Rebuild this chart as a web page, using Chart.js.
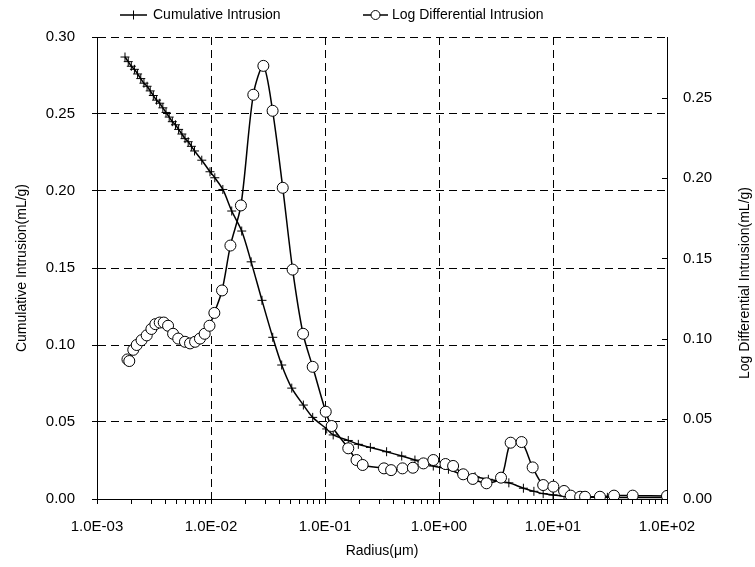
<!DOCTYPE html>
<html>
<head>
<meta charset="utf-8">
<script src="https://cdn.jsdelivr.net/npm/chart.js@4.4.1/dist/chart.umd.min.js"></script>
<style>
  html, body { margin: 0; padding: 0; background: #fff; }
  canvas { display: block; }
</style>
</head>
<body>
<canvas id="chart" width="755" height="567"></canvas>
<script>
const cumRadius = [0.00176, 0.00188, 0.00200, 0.00213, 0.00227, 0.00242, 0.00258, 0.00275, 0.00293, 0.00312,
  0.00333, 0.00355, 0.00378, 0.00403, 0.00430, 0.00458, 0.00488, 0.00520, 0.00555, 0.00592,
  0.00631, 0.00673, 0.00717, 0.0083, 0.0098, 0.0108, 0.0127, 0.0152, 0.0186, 0.0225,
  0.028, 0.0348, 0.0417, 0.0511, 0.0646, 0.078, 0.1035, 0.118, 0.160, 0.196,
  0.25, 0.347, 0.471, 0.615, 0.891, 1.21, 1.58, 2.07, 2.71, 4.1,
  5.5, 6.8, 8.2, 10, 12.5, 15, 20, 30, 50, 100];
const cumVolume = [0.287, 0.284, 0.281, 0.279, 0.276, 0.273, 0.270, 0.268, 0.265, 0.262,
  0.259, 0.257, 0.254, 0.251, 0.248, 0.245, 0.243, 0.240, 0.237, 0.234,
  0.232, 0.229, 0.226, 0.220, 0.2125, 0.2086, 0.201, 0.187, 0.174, 0.154,
  0.129, 0.105, 0.087, 0.072, 0.061, 0.053, 0.0455, 0.0416, 0.038, 0.0355,
  0.0335, 0.0307, 0.0279, 0.0253, 0.0214, 0.0193, 0.016, 0.0145, 0.0128, 0.0105,
  0.0070, 0.005, 0.0035, 0.0026, 0.002, 0.0015, 0.0012, 0.0011, 0.001, 0.001];

const logRadius = [0.00185, 0.00192, 0.00208, 0.00223, 0.00246, 0.00273, 0.00300, 0.00325, 0.00355, 0.00385,
  0.00420, 0.00465, 0.00516, 0.00591, 0.00655, 0.00725, 0.0080, 0.0088, 0.0097, 0.0107,
  0.0125, 0.0148, 0.0183, 0.0235, 0.0288, 0.0347, 0.0426, 0.052, 0.0642, 0.078,
  0.1015, 0.1144, 0.160, 0.189, 0.214, 0.329, 0.38, 0.478, 0.59, 0.73,
  0.891, 1.14, 1.33, 1.63, 1.98, 2.61, 3.5, 4.25, 5.3, 6.63,
  8.2, 10.07, 12.5, 14.3, 17.3, 19.1, 25.8, 34.3, 50, 100];
const logVolume = [0.087, 0.086, 0.093, 0.096, 0.099, 0.102, 0.106, 0.109, 0.110, 0.110,
  0.108, 0.103, 0.100, 0.098, 0.097, 0.098, 0.100, 0.103, 0.108, 0.116,
  0.130, 0.158, 0.183, 0.252, 0.270, 0.242, 0.194, 0.143, 0.103, 0.0824,
  0.0544, 0.0455, 0.0316, 0.0243, 0.0212, 0.0191, 0.018, 0.0191, 0.0195, 0.0222,
  0.0243, 0.0218, 0.0206, 0.0154, 0.0125, 0.0098, 0.0133, 0.0351, 0.0355, 0.0197,
  0.0087, 0.0077, 0.005, 0.0021, 0.0014, 0.0014, 0.0014, 0.0021, 0.0021, 0.0019];

const xDecades = [0.001, 0.01, 0.1, 1, 10, 100];
const xTickLabels = ['1.0E-03', '1.0E-02', '1.0E-01', '1.0E+00', '1.0E+01', '1.0E+02'];
const leftTicks = [0, 0.05, 0.10, 0.15, 0.20, 0.25, 0.30];
const rightTicks = [0, 0.05, 0.10, 0.15, 0.20, 0.25];

const FONT = "'Liberation Sans', Arial, sans-serif";

function isDecade(v) {
  const e = Math.log10(v);
  return Math.abs(e - Math.round(e)) < 1e-9;
}

// 1..9 per decade, like Excel's minor marks
function decadeTicks() {
  const out = [];
  for (let i = 0; i < xDecades.length; i++) {
    const d = xDecades[i];
    if (i === xDecades.length - 1) { out.push({ value: d }); break; }
    for (let m = 1; m <= 9; m++) out.push({ value: d * m });
  }
  return out;
}

const decor = {
  id: 'decor',
  afterDraw(chart) {
    const ctx = chart.ctx;
    const area = chart.chartArea;
    const y1 = chart.scales.y1;
    ctx.save();
    // inward tick marks on the right axis
    ctx.strokeStyle = '#000';
    ctx.lineWidth = 1;
    rightTicks.forEach(v => {
      const y = Math.round(y1.getPixelForValue(v)) + 0.5;
      ctx.beginPath();
      ctx.moveTo(area.right - 5, y);
      ctx.lineTo(area.right, y);
      ctx.stroke();
    });

    // legend
    ctx.lineWidth = 1.5;
    ctx.beginPath();
    ctx.moveTo(120, 15); ctx.lineTo(147, 15);
    ctx.moveTo(363, 15); ctx.lineTo(388, 15);
    ctx.stroke();
    ctx.lineWidth = 1;
    ctx.beginPath();
    ctx.moveTo(133.5, 10.5); ctx.lineTo(133.5, 19.5);
    ctx.stroke();
    ctx.beginPath();
    ctx.arc(375.5, 15, 4.5, 0, Math.PI * 2);
    ctx.fillStyle = '#fff';
    ctx.fill();
    ctx.stroke();

    ctx.fillStyle = '#000';
    ctx.font = '14px ' + FONT;
    ctx.textBaseline = 'middle';
    ctx.textAlign = 'left';
    ctx.fillText('Cumulative Intrusion', 153, 15);
    ctx.fillText('Log Differential Intrusion', 392, 15);

    // axis titles
    ctx.textAlign = 'center';
    ctx.fillText('Radius(μm)', (area.left + area.right) / 2, 551);
    ctx.save();
    ctx.translate(22, 268);
    ctx.rotate(-Math.PI / 2);
    ctx.fillText('Cumulative Intrusion(mL/g)', 0, 0);
    ctx.restore();
    ctx.save();
    ctx.translate(745, 283);
    ctx.rotate(-Math.PI / 2);
    ctx.fillText('Log Differential Intrusion(mL/g)', 0, 0);
    ctx.restore();
    ctx.restore();
  }
};

new Chart(document.getElementById('chart').getContext('2d'), {
  type: 'line',
  data: {
    datasets: [{
      label: 'Cumulative Intrusion',
      data: cumRadius.map((r, i) => ({ x: r, y: cumVolume[i] })),
      yAxisID: 'y',
      borderColor: '#000',
      borderWidth: 1.5,
      pointStyle: 'cross',
      pointRadius: 4.5,
      pointBorderWidth: 1,
      pointBorderColor: '#000',
      tension: 0.3,
      fill: false,
      order: 1
    }, {
      label: 'Log Differential Intrusion',
      data: logRadius.map((r, i) => ({ x: r, y: logVolume[i] })),
      yAxisID: 'y1',
      borderColor: '#000',
      borderWidth: 1.5,
      pointStyle: 'circle',
      pointRadius: 5.5,
      pointBorderWidth: 1,
      pointBorderColor: '#000',
      pointBackgroundColor: '#fff',
      tension: 0.3,
      fill: false,
      order: 0
    }]
  },
  options: {
    responsive: false,
    animation: false,
    devicePixelRatio: 1,
    layout: { padding: { top: 37, left: 0, right: 0, bottom: 0 } },
    plugins: {
      legend: { display: false },
      tooltip: { enabled: false }
    },
    scales: {
      x: {
        type: 'logarithmic',
        position: 'bottom',
        min: 0.001,
        max: 100,
        afterBuildTicks: scale => { scale.ticks = decadeTicks(); },
        afterFit: scale => { scale.height = 68; },
        grid: {
          color: c => (c.tick && isDecade(c.tick.value)) ? '#000' : 'rgba(0,0,0,0)',
          tickColor: '#000',
          tickLength: 5,
          tickWidth: 1,
          lineWidth: 1
        },
        border: { display: true, color: '#000', width: 1, dash: [8, 5] },
        ticks: {
          autoSkip: false,
          maxRotation: 0,
          minRotation: 0,
          padding: 14,
          color: '#000',
          font: { family: FONT, size: 15 },
          callback: v => {
            const i = xDecades.findIndex(d => Math.abs(d - v) / d < 1e-9);
            return i >= 0 ? xTickLabels[i] : '';
          }
        }
      },
      y: {
        type: 'linear',
        position: 'left',
        min: 0,
        max: 0.30,
        afterBuildTicks: scale => { scale.ticks = leftTicks.map(v => ({ value: v })); },
        afterFit: scale => { scale.width = 97; },
        grid: {
          color: '#000',
          tickColor: '#000',
          tickLength: 5,
          tickWidth: 1,
          lineWidth: 1
        },
        border: { display: true, color: '#000', width: 1, dash: [8, 5] },
        ticks: {
          padding: 17,
          color: '#000',
          font: { family: FONT, size: 15 },
          callback: v => v.toFixed(2)
        }
      },
      y1: {
        type: 'linear',
        position: 'right',
        min: 0,
        max: 0.288,
        afterBuildTicks: scale => { scale.ticks = rightTicks.map(v => ({ value: v })); },
        afterFit: scale => { scale.width = 88; },
        grid: { display: true, drawOnChartArea: false, drawTicks: false },
        border: { display: true, color: '#000', width: 1 },
        ticks: {
          padding: 16,
          color: '#000',
          font: { family: FONT, size: 15 },
          callback: v => v.toFixed(2)
        }
      }
    }
  },
  plugins: [decor]
});
</script>
</body>
</html>
